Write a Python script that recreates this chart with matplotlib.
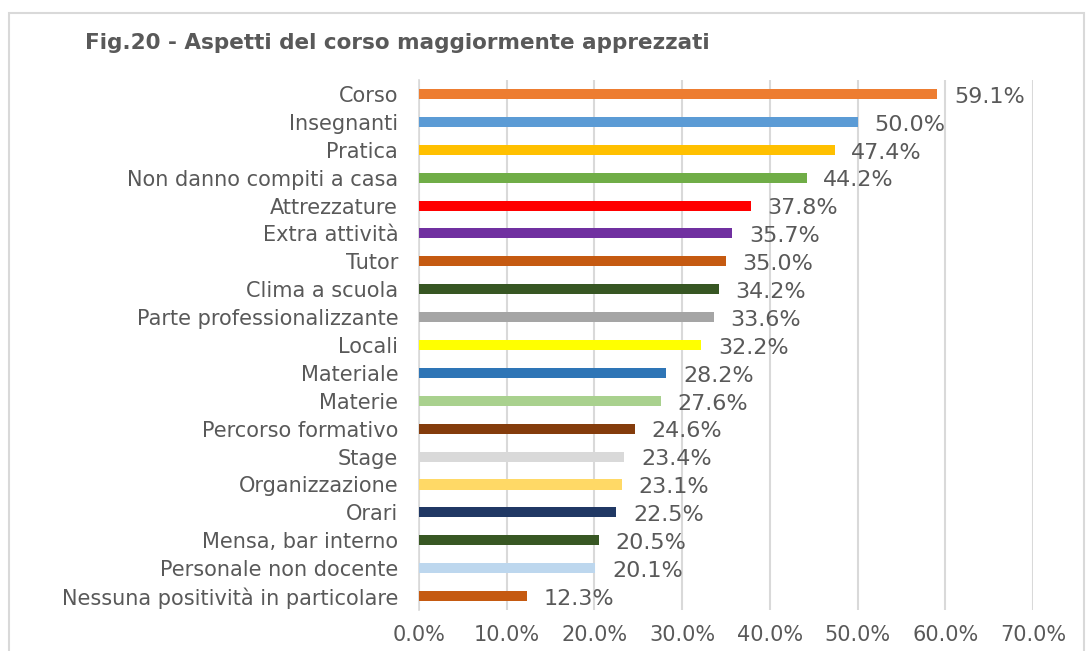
import matplotlib.pyplot as plt
from matplotlib.patches import Rectangle

# Data (top to bottom as in the chart)
categories = ['Corso', 'Insegnanti', 'Pratica', 'Non danno compiti a casa', 'Attrezzature',
              'Extra attività', 'Tutor', 'Clima a scuola', 'Parte professionalizzante', 'Locali',
              'Materiale', 'Materie', 'Percorso formativo', 'Stage', 'Organizzazione', 'Orari',
              'Mensa, bar interno', 'Personale non docente', 'Nessuna positività in particolare']
values = [0.591, 0.500, 0.474, 0.442, 0.378, 0.357, 0.350, 0.342, 0.336, 0.322,
          0.282, 0.276, 0.246, 0.234, 0.231, 0.225, 0.205, 0.201, 0.123]
colors = ['#ED7D31', '#5B9BD5', '#FFC000', '#70AD47', '#FF0000', '#7030A0', '#C55A11',
          '#375623', '#A5A5A5', '#FFFF00', '#2E75B6', '#A9D18E', '#843C0C', '#D9D9D9',
          '#FFD966', '#203864', '#385723', '#BDD7EE', '#C55A11']
xticks = [0.0, 0.1, 0.2, 0.3, 0.4, 0.5, 0.6, 0.7]

text_color = '#595959'

fig = plt.figure(figsize=(10.9, 6.51), dpi=100)
ax = fig.add_axes([0.3844, 0.063, 0.5633, 0.814])

y = list(range(len(categories)))
ax.barh(y, values, height=0.36, color=colors, zorder=3)
ax.set_ylim(len(categories) - 0.5, -0.5)
ax.set_xlim(0, 0.7)

ax.set_yticks(y)
ax.set_yticklabels(categories, fontsize=15, color=text_color)
ax.set_xticks(xticks)
ax.set_xticklabels(['%.1f%%' % (t * 100) for t in xticks], fontsize=15, color=text_color)
ax.tick_params(axis='y', length=0, pad=15)
ax.tick_params(axis='x', length=0, pad=11)

ax.grid(axis='x', color='#D9D9D9', linewidth=1.5, zorder=0)
for s in ['top', 'right', 'bottom']:
    ax.spines[s].set_visible(False)
ax.spines['left'].set_color('#D9D9D9')
ax.spines['left'].set_linewidth(1.2)

for yi, v in zip(y, values):
    ax.annotate('%.1f%%' % (v * 100), (v, yi), xytext=(12, -2), textcoords='offset points',
                va='center', ha='left', fontsize=16, color=text_color)

fig.text(85 / 1090, 1 - 43 / 651, 'Fig.20 - Aspetti del corso maggiormente apprezzati',
         fontsize=15.5, fontweight='bold', color=text_color, va='center', ha='left')

fig.patches.append(Rectangle((9 / 1090, -0.01), 1075 / 1090, 1 - 13 / 651 + 0.01,
                             transform=fig.transFigure, fill=False,
                             edgecolor='#D9D9D9', linewidth=1.5))

fig.savefig('out.png', dpi=100)
